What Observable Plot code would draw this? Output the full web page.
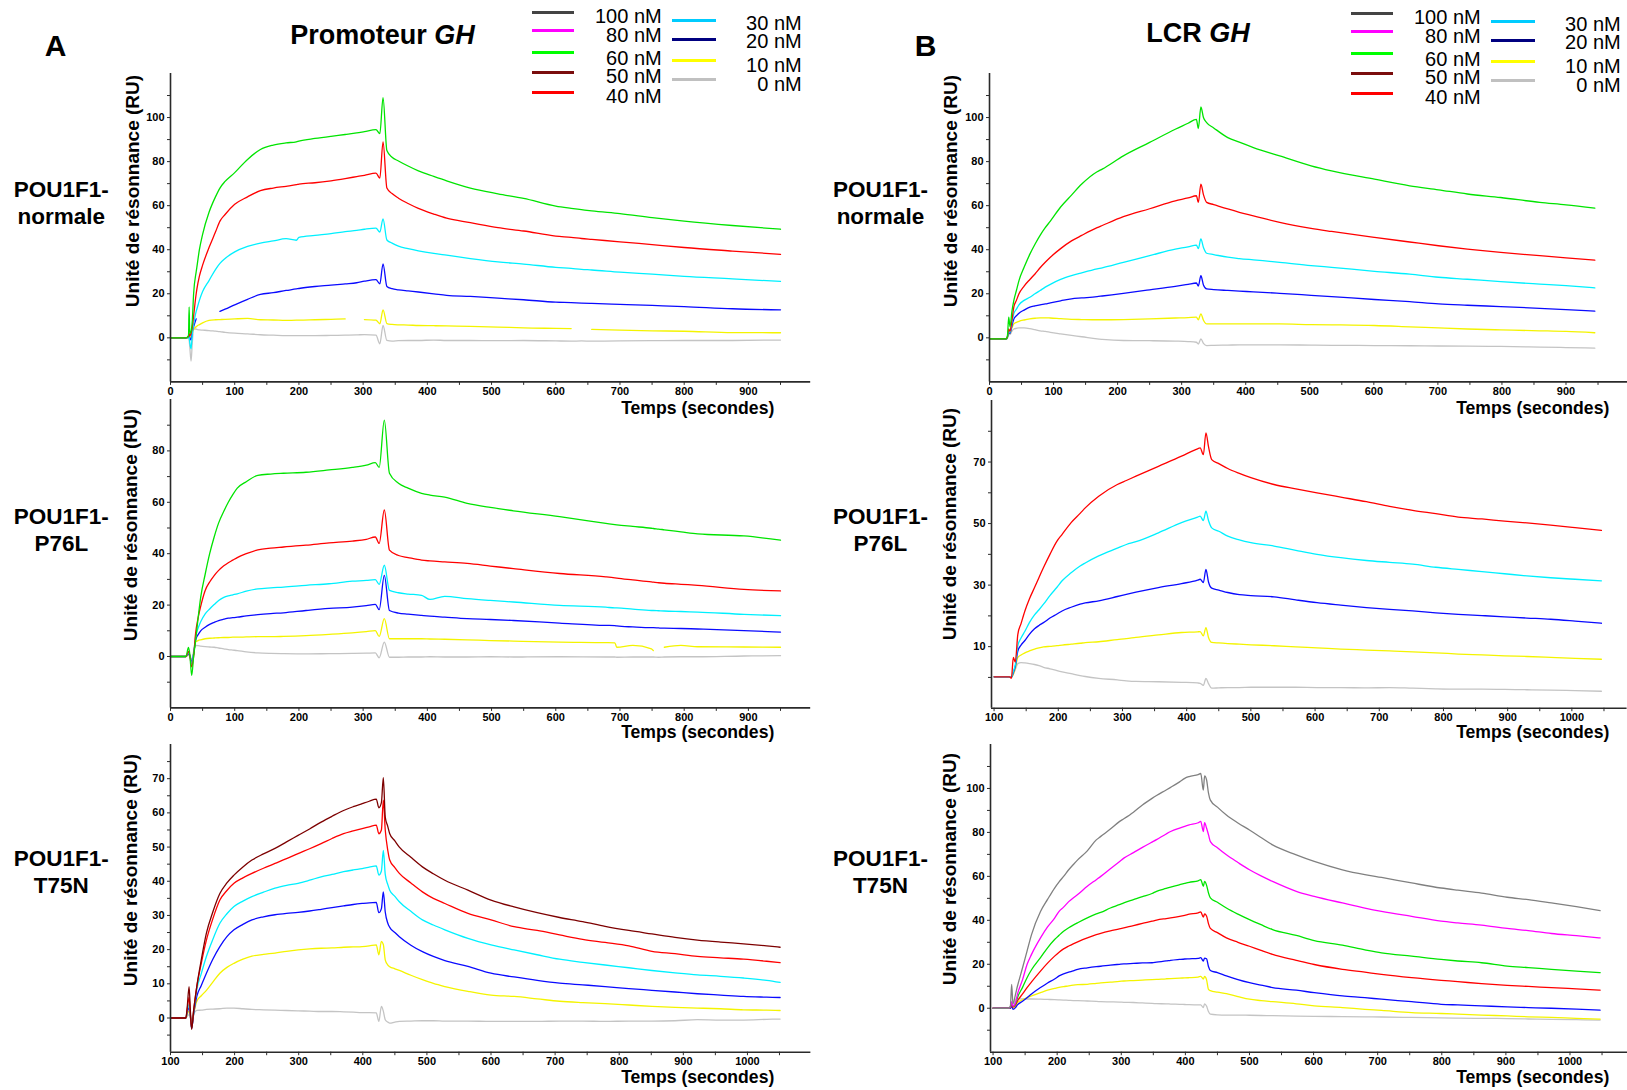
<!DOCTYPE html>
<html><head><meta charset="utf-8">
<script src="https://cdn.jsdelivr.net/npm/d3@7"></script>
<script src="https://cdn.jsdelivr.net/npm/@observablehq/plot@0.6"></script>
<style>
html,body{margin:0;padding:0;background:#fff;overflow:hidden;}
#root{position:relative;width:1627px;height:1090px;font-family:"Liberation Sans",Arial,Helvetica,sans-serif;color:#000;}
.t{position:absolute;white-space:nowrap;line-height:1;}
svg{position:absolute;}
</style></head>
<body><div id="root"></div>
<script>
// ---------------- DATA ----------------
const concs = ["0 nM","10 nM","20 nM","30 nM","40 nM","50 nM","60 nM","80 nM","100 nM"];
const legendCol1 = ["100 nM","80 nM","60 nM","50 nM","40 nM"];
const legendCol2 = ["30 nM","20 nM","10 nM","0 nM"];
const rowNames = [["POU1F1-","normale"],["POU1F1-","P76L"],["POU1F1-","T75N"]];
const titleA = "Promoteur"; const titleB = "LCR"; const titleGene = "GH";
const yLabel = "Unité de résonnance (RU)";
const xLabel = "Temps (secondes)";

// Panel A1 : Promoteur GH, POU1F1-normale
const tA1 = [0,24,28,29,30,32,34,36,40,41,45,50,60,70,77,85,100,120,140,160,180,196,200,225,250,272,290,302,320,326,331,337,345,355,370,386,410,430,467,510,550,600,624,640,656,700,750,800,875,950];
const a1_60 = [0,0,1,14,2,3,8,20,30,32,40,47,57,64,68,71,75,81,85.5,87.5,88.5,89,89.3,90.5,91.5,92.3,93,93.6,94.5,92.7,109,85,82,80.3,78,75.8,73.3,71.3,68,65.4,63.3,59.8,58.8,58.2,57.6,56.4,54.6,53,51,49.3];
const a1_40 = [0,0,0.5,2,1,2,5,10,20,22,28,33,41,48,53,56,60.6,64,66.8,68,68.8,69.5,69.8,70.4,71.3,72.3,73.2,73.8,74.8,72.5,89,68,65.5,63.4,61,58.8,56.2,54.3,52.3,50,48.5,46.2,45.6,45.1,44.7,43.6,42.3,41,39.4,37.9];
const a1_30 = [0,0,0,0.5,-2,-5,2,6,12,13,17,21,26,31,33.8,36,39,41.5,43,44,45,44.3,45.6,46.5,47.3,48.2,48.8,49.3,49.8,48,54,44.4,43,41.6,40.5,39.5,38.3,37.5,36,34.5,33.5,32,31.5,31.1,30.8,29.8,28.9,27.9,26.8,25.6];
const a1_20 = [0,0,0.3,1,0,-1,3,5,8.6,null,null,null,null,null,12,13,15,17.5,19.7,20.5,21.5,22.2,22.4,23.3,23.9,24.5,25,25.7,26.4,24.5,33.6,23.3,22.3,21.8,21.3,20.8,20,19.3,18.8,18,17.3,16.2,16,15.8,15.6,15.2,14.7,14.2,13.2,12.7];
const a1_10 = [0,0,0.3,1,0,1,3,4,5,5.3,6,6.8,7.9,8.2,8.3,8.4,8.6,8.8,8.2,8.1,7.9,8,8,8.2,8.4,8.6,null,8.3,8,6.4,12.7,6.5,6.1,5.9,5.8,5.6,5.5,5.4,5.2,4.9,4.5,4.3,4.2,null,3.8,3.5,3.2,3,2.4,2.3];
const a1_0 = [0,0,0,-1,-4,-10.6,-2,4,4,3.8,3.6,3.5,3.3,3,2.8,2.5,2.1,1.8,1.4,1.2,1,1,1,1,1.1,1.2,1.3,1.5,1.2,-2.7,5.6,-1.2,-1.5,-1.3,-1.2,-1.2,-1,-1.2,-1.2,-1.3,-1.2,-1.4,-1.5,-1.4,-1.5,-1.4,-1.3,-1.2,-1.2,-1];

// Panel A2 : Promoteur GH, POU1F1-P76L
const tA2 = [0,24,28,30,33,36,39,43,47,54,61,68,75,83,90,97,104,118,136,156,176,211,247,283,305,319,325,333,341,355,370,391,404,427,462,498,534,606,678,692,695,720,749,752,760,769,795,821,893,950];
const a2_60 = [0,0,3.5,1,-7.4,0,6,15,23,32,40,46.5,52,56.5,60,63,65.5,68,70.5,71,71.3,71.7,72.6,73.6,74.5,75.4,73.6,92,71.3,67.4,65.5,63.5,62.8,62,59.6,58,56.7,54.4,51.8,51.3,51.2,50.6,49.9,49.8,49.6,49.3,48.5,47.7,46.9,45.3];
const a2_40 = [0,0,2,0.5,-4,0,8.8,15,19.5,25.7,29,31.5,33.5,35.3,36.5,37.5,38.5,40,41.5,42.2,42.6,43.3,44.2,44.9,45.6,46.5,44,57,41.4,39.3,38.5,37.5,37.2,36.8,36.2,35.2,34.2,32.3,31,30.6,30.5,29.8,29,28.9,28.7,28.5,28.1,27.7,26.1,25.5];
const a2_30 = [0,0,1.5,0.5,-3,1,7.5,11,13.5,16.6,18.5,20.2,21.8,23,23.6,24,24.4,25.4,26.3,26.7,27,27.7,28.3,29.3,29.6,29.9,28.1,35.5,25.7,24.8,24.3,23.8,22.2,23.4,22.5,21.8,21.2,19.9,19.2,18.9,18.9,18.4,17.9,17.9,17.8,17.7,17.5,17.3,16.4,15.9];
const a2_20 = [0,0,1,0.3,-2,1,6.2,8.5,10,11.4,12.5,13.3,14,14.5,14.9,15.1,15.3,15.8,16.3,16.7,17,17.9,18.7,19.2,19.8,20.3,18.2,31.6,17.9,16.9,16.5,16,15.7,15.3,14.7,14.4,14,13,12.1,12,11.9,11.5,11.2,11.2,11.1,11,10.9,10.7,10.1,9.5];
const a2_10 = [0,0,0.8,0.3,-2,1,5.6,6.2,6.5,6.9,7.1,7.2,7.3,7.4,7.4,7.5,7.5,7.6,7.7,7.7,7.8,8.1,8.6,9.2,9.7,10.1,7.8,14.7,6.9,6.9,6.9,6.9,6.8,6.7,6.5,6.2,6,5.6,5.4,5.3,3.6,4.3,3,2.3,null,3.6,4.3,3.8,3.7,3.6];
const a2_0 = [0,0,0.5,0,-1,2,4.3,4.2,4,3.8,3.7,3.6,3.3,3,2.7,2.5,2.3,1.8,1.4,1.2,1.1,1,1.1,1.2,1.3,1.4,-0.5,5.6,-0.3,-0.3,-0.2,-0.2,-0.1,-0.2,-0.2,-0.1,-0.2,-0.1,-0.2,-0.2,-0.3,-0.2,-0.2,-0.2,-0.3,-0.2,-0.1,-0.1,0.2,0.3];

// Panel A3 : Promoteur GH, POU1F1-T75N
const tA3 = [100,124,126,129,131,133,136,141,148,156,166,177,188,199,213,227,245,263,281,299,317,335,352,370,385,399,410,421,425,429,432,435,439,442,450,457,475,493,510,528,564,600,636,672,707,743,778,815,851,887,922,958,994,1030,1051];
const a3_50 = [0,0,3,9.2,2,-3.4,2,9.2,17,24.8,31,36.4,39.5,41.8,44.2,46.2,48,49.6,51.5,53.4,55.3,57.3,59,60.7,61.8,62.7,63.4,64,61.5,63,70.3,58.8,56,53.9,51.8,50,47,44.2,42.2,40.3,37.4,34.5,32.5,30.8,29.4,28.2,26.8,25.6,24.6,23.6,22.8,22.2,21.7,21.1,20.7];
const a3_40 = [0,0,2.5,6,1,-3,2,9.2,16,22.8,29,34.5,37.3,39.4,41,42.3,43.8,45.2,46.6,48.1,49.5,51,52.5,53.9,54.7,55.4,55.9,56.4,53.9,55,63.7,55,49,46.2,44,42.3,39.5,36.9,35,33.5,30.6,28.7,26.7,25.6,24.3,23,22.1,21.1,19.5,18.8,18,17.6,17.2,16.6,16.2];
const a3_30 = [0,0,2,4,1,-3,1.5,8.3,13,18,23,27.7,30.5,32.6,34.2,35.5,36.8,38,38.8,39.4,40.3,41.3,42,42.8,43.3,43.7,44.1,44.5,41.8,43,49,42,39,37.4,35.6,34,31.2,28.7,27.2,25.8,23.3,21.4,19.9,18.5,17.2,16.3,15.5,14.7,13.9,13.2,12.6,12.2,11.7,11,10.4];
const a3_20 = [0,0,1.5,3,0.5,-3,1,6.3,9.5,13.1,17.2,20.9,23.8,25.8,27.4,28.7,29.6,30.2,30.6,30.9,31.3,31.8,32.3,32.8,33.2,33.5,33.7,33.8,30.8,32,36.9,31,27.7,26.5,25,23.8,21.3,19.4,18,16.8,15.1,13.1,12,11,10.2,9.7,9.2,8.6,8.1,7.6,7.1,6.7,6.3,6.1,6];
const a3_10 = [0,0,1,2,0.5,-2,1,4.9,6.5,8.1,10.5,13.1,14.8,16,17.2,18.1,18.6,19,19.5,19.9,20.2,20.4,20.5,20.7,20.8,20.9,21.1,21.4,18.5,22.4,21.5,17,15.5,15,14.4,13.9,12.5,11.2,10.1,9.2,7.8,6.7,6.3,5.6,4.9,4.5,4.2,3.8,3.4,3.1,2.9,2.7,2.4,2.3,2.2];
const a3_0 = [0,0,0.5,1,0,-1,1,2.2,2.3,2.5,2.6,2.7,2.9,2.9,2.7,2.5,2.4,2.3,2.2,2.1,2,1.9,1.9,1.8,1.7,1.6,1.6,1.5,-1,3.4,2,-0.5,-1.2,-1.5,-1.2,-1,-0.9,-0.8,-0.8,-0.9,-0.9,-1,-1,-1,-0.9,-0.9,-1,-0.9,-0.9,-0.8,-0.5,-0.6,-0.6,-0.4,-0.3];

// Panel B1 : LCR GH, POU1F1-normale
const tB1 = [0,26,28,30,32,35,38,42,46,54,63,71,79,87,95,111,128,144,168,176,209,250,290,310,323,326,330,334,339,350,372,390,412,453,502,534,601,656,701,746,798,859,900,945];
const b1_60 = [-0.5,-0.5,1,9.4,5,12,17,21.5,26,32,38,42.5,46.5,50,53,59.4,64.8,69.8,75.4,76.6,82.6,88.7,94.7,97.4,99.2,95,104.8,100,97.7,95.3,90.9,88.8,86.4,82.6,78.1,75.8,72,69,67.2,65.3,63.7,61.5,60.4,58.9];
const b1_40 = [-0.5,-0.5,0.5,4,3,8,14,17,20,23.5,26.5,29,31.8,34.3,36.6,40.5,44,46.5,50,51,55,58.6,62.2,63.5,64.5,61.5,69.8,65,61.5,60.5,58.5,57,55.4,52.4,49.7,48.3,45.6,43.5,41.8,40.3,38.8,37.3,36.3,35.3];
const b1_30 = [-0.5,-0.5,0.3,3,2.5,7,11,13,15,17,18.4,20,21.5,23,24.3,26.5,28.2,29.5,31.3,31.8,34.3,37.3,40.3,41.3,42.1,40.5,44.9,41,38.4,37.8,36.6,36,35.4,34.3,32.8,32,30.2,28.9,27.5,26.6,25.5,24.4,23.7,22.7];
const b1_20 = [-0.5,-0.5,0.3,2.5,2,5.5,8.6,10,11.2,12.6,13.9,14.5,15,15.4,15.9,16.8,17.7,18.1,18.7,19,20.2,21.8,23.4,24.3,24.9,23.5,28.2,24,22.2,21.9,21.5,21.2,20.9,20.2,19.3,18.7,17.4,16.4,15.4,14.8,14.2,13.4,12.8,12.1];
const b1_10 = [-0.5,-0.5,0.2,2,2,4.5,6.3,7,7.5,8.1,8.6,8.9,9.1,9.1,9,8.7,8.4,8.3,8.2,8.2,8.3,8.6,9,9.2,9.4,8.2,10.9,8,6.3,6.3,6.3,6.3,6.3,6.3,6,5.9,5.6,5,4.5,4,3.6,3.2,2.9,2.3];
const b1_0 = [-0.5,-0.5,0,1.5,1.5,3,4,4.3,4.5,4.5,4.2,3.7,3.2,2.9,2.5,1.8,1.1,0.5,-0.5,-0.7,-1.2,-1.3,-1.5,-1.7,-2,-2.8,-0.5,-2.5,-3.5,-3.4,-3.3,-3.2,-3.2,-3.2,-3.3,-3.4,-3.5,-3.6,-3.7,-3.8,-3.9,-4.2,-4.4,-4.7];

// Panel B2 : LCR GH, POU1F1-P76L
const tB2 = [100,124,127,130,133,137,142,148,155,163,170,177,187,198,206,220,234,242,263,292,306,321,356,392,417,421,426,430,434,439,450,464,482,500,536,570,603,640,680,716,752,788,823,860,895,930,967,1005,1046];
const b2_40 = [0.2,0.2,-0.3,6.5,5,14,17.5,21.6,25.5,29.2,32.5,35.7,40,44.3,46.5,50.3,53.3,55.1,58.9,62.7,64,65.4,68.6,71.9,74.3,74.6,72.4,79.5,75,70.8,69.5,67.9,66.3,64.9,62.7,61.3,60,58.6,57.1,55.6,54.3,53.2,52.1,51.5,50.8,50.2,49.5,48.7,47.8];
const b2_30 = [0.2,0.2,0,2,4,10.3,12.8,15,17.8,20.3,22,23.8,26.6,29.3,31.4,34,36.2,37.2,39.5,42,43.2,44.1,47,50.3,52.1,52.4,51,54,51,48.6,47.5,45.9,44.7,43.8,42.7,41.3,40,38.9,38,37.4,36.8,35.8,35.1,34.4,33.7,33,32.4,31.9,31.4];
const b2_20 = [0.2,0.2,0,1.5,3.5,8.6,10.5,12,14,15.8,16.9,17.8,19.3,20.6,21.6,22.8,23.8,24.2,24.9,26.3,27,27.7,29.2,30.5,31.6,31.9,30.8,35.1,31,29,28.4,27.6,26.9,26.6,26.2,25.2,24.3,23.5,22.7,22.1,21.6,21,20.5,20.1,19.7,19.3,18.9,18.3,17.6];
const b2_10 = [0.2,0.2,0,1,3,6.5,7.3,8,8.6,9.2,9.6,9.9,10.1,10.3,10.5,10.8,11.1,11.3,11.6,12.3,12.6,13,13.8,14.6,14.8,14.9,13.5,16.2,13,11.4,11.2,11,10.8,10.6,10.3,9.9,9.6,9.2,8.9,8.6,8.3,8,7.6,7.3,7,6.8,6.5,6.2,5.9];
const b2_0 = [0.2,0.2,0,1,2.5,4.5,4.8,4.7,4.5,4.2,3.8,3.3,2.8,2.2,1.8,1.2,0.6,0.3,-0.3,-0.8,-1.1,-1.3,-1.4,-1.6,-1.8,-1.9,-2.6,-0.3,-2,-3.5,-3.4,-3.3,-3.3,-3.2,-3.2,-3.2,-3.3,-3.3,-3.4,-3.3,-3.5,-3.7,-3.8,-3.8,-3.9,-4,-4.1,-4.3,-4.5];

// Panel B3 : LCR GH, POU1F1-T75N
const tB3 = [100,124,127,129,131,135,138,146,153,160,174,185,196,203,210,218,225,232,247,261,268,283,297,304,319,333,348,355,370,377,391,399,406,420,424,428,430,433,436,439,450,464,482,500,518,536,573,601,645,680,706,753,799,825,862,902,935,971,1010,1047];
const b3_100 = [0,0,1,10.9,2,6.3,10,18.4,26,33.5,44,49.5,54.7,57.5,60,63,65.3,67.5,71.6,76.6,78.2,81.5,84.9,86.2,89.2,92.5,95.5,96.8,99.3,100.5,103,104.6,105.4,106.3,106.8,99.2,105.7,104,98,94.7,91.5,87.9,84.3,81.1,77.7,74.3,69.8,66.8,63,60.8,59.5,57,54.7,53.7,52.4,50.5,49.4,47.9,46.2,44.4];
const b3_80 = [0,0,0.5,3,1,2.5,6.3,13,19.9,24.5,32,37,41,44.1,46,48.5,50.2,51.7,55.5,58.5,60,63.5,66.7,68.3,70.8,73.2,75.6,76.7,79.3,80.4,82,82.8,83.4,84.4,85,80.4,84.4,82,79,75.8,73,69.8,66.3,63,60.2,57.7,53.2,50.9,47.9,45.6,44.1,41.8,39.6,38.8,37.8,36.3,35.3,34,33,32];
const b3_60 = [0,0,0.5,2.5,1,2,4.8,9.5,13.9,17.5,23,27.5,31.3,33.2,35,36.6,37.8,38.9,41.1,42.9,43.6,45.6,47.1,47.9,49.4,50.8,52.2,53.2,54.5,55.1,56.2,56.8,57.3,58,58.5,55.5,57.7,56,52.5,50.2,48.2,45.6,42.8,40.3,38,35.8,33.1,30.8,28.7,26.6,25.2,23.7,22.2,21.5,20.7,19.2,18.5,17.7,16.9,16.2];
const b3_40 = [0,0,0.3,2,0.5,1.5,3.3,6.5,9.4,12,16.9,20.5,23.7,25.5,27,28.3,29.3,30.2,32,33.5,34.1,35.2,36.1,36.6,37.6,38.6,39.6,40.1,40.8,41.1,41.8,42.3,42.8,43.4,43.8,41.5,42.9,42,38.5,36.3,34.4,32,30,28.2,26.3,24.5,21.8,19.9,17.7,16.4,15.4,13.9,12.7,12.1,11.2,10.4,9.9,9.4,8.8,8.2];
const b3_20 = [0,0,0,1,-0.5,0.3,1.5,3.2,4.8,6.5,9.4,11.5,13.3,14.7,15.6,16.4,17,17.7,18.4,18.9,19.1,19.6,20,20.2,20.4,20.6,20.7,21,21.5,21.8,22.2,22.4,22.5,22.7,23,21.5,22.8,22.5,19,17.2,16.2,14.7,13,11.6,10.5,9.4,8.2,7.1,5.6,4.8,4.1,3,1.8,1.5,1.1,0.6,0.3,0,-0.4,-0.9];
const b3_10 = [0,0,0,0.5,0,0.8,2.6,3.8,4.8,5.6,7.1,8.2,9,9.5,9.8,10.2,10.5,10.7,10.9,11.3,11.5,11.9,12.2,12.4,12.6,12.8,13,13.1,13.4,13.5,13.7,13.8,13.9,14.2,14.5,13.3,14.5,13,8.6,8,7.3,6.6,5.3,4.1,3.5,3,2,1.1,0.3,-0.5,-1,-2,-2.4,-2.7,-3.1,-3.5,-3.9,-4.2,-4.6,-5];
const b3_0 = [0,0,0,0.5,0,4.1,4.3,4.3,4.2,4.2,4.1,4,3.9,3.8,3.7,3.6,3.5,3.5,3.3,3.1,3,2.9,2.8,2.7,2.6,2.4,2.2,2.1,2,1.9,1.8,1.7,1.6,1.5,1.5,0.3,2,1,-1.5,-2.7,-3,-3.1,-3.1,-3.2,-3.3,-3.4,-3.6,-3.7,-3.8,-3.9,-4,-4.2,-4.4,-4.5,-4.6,-4.7,-4.9,-5.1,-5.2,-5.4];

// Axis tick values
const xMajor0 = [0,100,200,300,400,500,600,700,800,900];
const xMinor0 = [50,150,250,350,450,550,650,750,850,950];
const xMajor100 = [100,200,300,400,500,600,700,800,900,1000];
const xMinor100 = [150,250,350,450,550,650,750,850,950,1050];
const yMajorA1 = [0,20,40,60,80,100], yMinorA1 = [-10,10,30,50,70,90,110];
const yMajorA2 = [0,20,40,60,80], yMinorA2 = [-10,10,30,50,70,90];
const yMajorA3 = [0,10,20,30,40,50,60,70], yMinorA3 = [-5,5,15,25,35,45,55,65,75];
const yMajorB2 = [10,30,50,70], yMinorB2 = [0,20,40,60,80];

// ---------------- STYLE / LAYOUT ----------------
const curveColor = {"100 nM":"#808080","80 nM":"#ff00ff","60 nM":"#00e400","50 nM":"#7d0000","40 nM":"#ff0000","30 nM":"#00f0ff","20 nM":"#0a0aff","10 nM":"#f4f400","0 nM":"#c4c4c4"};
const legendColor = {"100 nM":"#444444","80 nM":"#ff00ff","60 nM":"#00ff00","50 nM":"#7a0d0d","40 nM":"#ff0000","30 nM":"#00ccff","20 nM":"#000080","10 nM":"#ffff00","0 nM":"#c0c0c0"};

const panels = [
  {t:tA1, s:{"0 nM":a1_0,"10 nM":a1_10,"20 nM":a1_20,"30 nM":a1_30,"40 nM":a1_40,"60 nM":a1_60},
   xd:[0,997], yd:[-20,120], px:[170.2,810.4], py:[381.7,73.3], xM:xMajor0, xm:xMinor0, yM:yMajorA1, ym:yMinorA1,
   ylab:[131.5,190.5], xlab:[774.3,409], row:[61.3,190]},
  {t:tA2, s:{"0 nM":a2_0,"10 nM":a2_10,"20 nM":a2_20,"30 nM":a2_30,"40 nM":a2_40,"60 nM":a2_60},
   xd:[0,997], yd:[-20,100], px:[170.2,810.4], py:[707.7,399.3], xM:xMajor0, xm:xMinor0, yM:yMajorA2, ym:yMinorA2,
   ylab:[130,525], xlab:[774.3,733], row:[61.3,517]},
  {t:tA3, s:{"0 nM":a3_0,"10 nM":a3_10,"20 nM":a3_20,"30 nM":a3_30,"40 nM":a3_40,"50 nM":a3_50},
   xd:[100,1099], yd:[-10,80], px:[170,810.4], py:[1051.7,744], xM:xMajor100, xm:xMinor100, yM:yMajorA3, ym:yMinorA3,
   ylab:[130,869.5], xlab:[774.3,1077.5], row:[61.3,859]},
  {t:tB1, s:{"0 nM":b1_0,"10 nM":b1_10,"20 nM":b1_20,"30 nM":b1_30,"40 nM":b1_40,"60 nM":b1_60},
   xd:[0,996], yd:[-20,120], px:[989,1627], py:[381.7,73.3], xM:xMajor0, xm:xMinor0, yM:yMajorA1, ym:yMinorA1,
   ylab:[949.5,190.5], xlab:[1609.3,409], row:[880.4,190]},
  {t:tB2, s:{"0 nM":b2_0,"10 nM":b2_10,"20 nM":b2_20,"30 nM":b2_30,"40 nM":b2_40},
   xd:[96,1086], yd:[-10,90], px:[991.4,1627], py:[707.7,400], xM:xMajor100, xm:xMinor100, yM:yMajorB2, ym:yMinorB2,
   ylab:[948.7,524], xlab:[1609.3,733], row:[880.4,517]},
  {t:tB3, s:{"0 nM":b3_0,"10 nM":b3_10,"20 nM":b3_20,"40 nM":b3_40,"60 nM":b3_60,"80 nM":b3_80,"100 nM":b3_100},
   xd:[96,1090], yd:[-20,120], px:[989.8,1627], py:[1051.7,744], xM:xMajor100, xm:xMinor100, yM:yMajorA1, ym:yMinorA1,
   ylab:[948.7,869], xlab:[1609.3,1077.5], row:[880.4,859]}
];

const root = document.getElementById("root");
function text(html, x, y, css, align) {
  const d = document.createElement("div");
  d.className = "t";
  d.innerHTML = html;
  const tx = align === "right" ? "-100%" : align === "left" ? "0" : "-50%";
  d.style.left = x + "px"; d.style.top = y + "px";
  d.style.transform = `translate(${tx},-50%)`;
  d.style.cssText += css || "";
  root.appendChild(d);
  return d;
}

const axisColor = "#2a2a2a";
panels.forEach((p, i) => {
  const ml = 46, mt = 6, mb = 24, mr = p.px[1] >= 1627 ? 0 : 6;
  const left = p.px[0] - ml, top = p.py[1] - mt;
  const width = p.px[1] - left + mr;
  const height = p.py[0] - top + mb;
  const lines = concs.filter(c => p.s[c]).map(c =>
    Plot.line(p.t.map((t, k) => ({t, v: p.s[c][k]})), {x: "t", y: "v", stroke: curveColor[c], strokeWidth: 1.3, curve: "monotone-x"})
  );
  const chart = Plot.plot({
    width, height, marginLeft: ml, marginRight: mr, marginTop: mt, marginBottom: mb,
    x: {domain: p.xd, axis: null, label: null},
    y: {domain: p.yd, axis: null, label: null},
    style: {background: "transparent", fontFamily: "'Liberation Sans', Arial, sans-serif", fontSize: "11px", fontWeight: "bold", color: axisColor, overflow: "visible"},
    marks: [
      ...lines,
      Plot.axisX(p.xM, {anchor: "bottom", tickSize: 3.5, tickPadding: 1.5, label: null, tickFormat: d => `${d}`, fill: "#000"}),
      Plot.axisX(p.xm, {anchor: "bottom", tickSize: 3.5, label: null, tickFormat: () => ""}),
      Plot.axisY(p.yM, {anchor: "left", tickSize: 3, tickPadding: 3, label: null, tickFormat: d => `${d}`, fill: "#000"}),
      Plot.axisY(p.ym, {anchor: "left", tickSize: 3, label: null, tickFormat: () => ""}),
      Plot.ruleX([p.xd[0]], {y1: p.yd[0], y2: p.yd[1], stroke: axisColor, strokeWidth: 1.6}),
      Plot.ruleY([p.yd[0]], {x1: p.xd[0], x2: p.xd[1], stroke: axisColor, strokeWidth: 1.6})
    ]
  });
  chart.style.left = left + "px";
  chart.style.top = top + "px";
  root.appendChild(chart);

  // axis titles
  const yl = text(yLabel, p.ylab[0], p.ylab[1], "font-weight:bold;font-size:19px;", "center");
  yl.style.transform = "translate(-50%,-50%) rotate(-90deg)";
  text(xLabel, p.xlab[0], p.xlab[1], "font-weight:bold;font-size:17.6px;", "right");
  // row labels
  const rn = rowNames[i % 3];
  text(rn[0], p.row[0], p.row[1], "font-weight:bold;font-size:22.5px;", "center");
  text(rn[1], p.row[0], p.row[1] + 26.5, "font-weight:bold;font-size:22.5px;", "center");
});

// panel letters & titles
text("A", 55.7, 46, "font-weight:bold;font-size:30px;", "center");
text("B", 925.6, 45.5, "font-weight:bold;font-size:30px;", "center");
text(`${titleA} <i>${titleGene}</i>`, 382.5, 35, "font-weight:bold;font-size:27px;", "center");
text(`${titleB} <i>${titleGene}</i>`, 1198, 33.3, "font-weight:bold;font-size:27px;", "center");

// legends
function legend(dx, dy) {
  const c1LineY = [12.3, 30.7, 52.7, 72.3, 92], c1TextY = [16.7, 35.7, 59, 77.3, 97.3];
  const c2LineY = [20, 39, 60.7, 79.3], c2TextY = [24, 42.3, 65.7, 85.3];
  const seg = (x1, x2, y, col) => {
    const d = document.createElement("div");
    d.style.cssText = `position:absolute;left:${x1}px;top:${y - 1.5}px;width:${x2 - x1}px;height:3px;background:${col};`;
    root.appendChild(d);
  };
  legendCol1.forEach((c, k) => {
    seg(531.7 + dx, 574.3 + dx, c1LineY[k] + dy, legendColor[c]);
    text(c, 661.7 + dx, c1TextY[k] + dy, "font-size:20px;line-height:0.78;", "right");
  });
  legendCol2.forEach((c, k) => {
    seg(672.3 + dx, 715.7 + dx, c2LineY[k] + dy, legendColor[c]);
    text(c, 801.7 + dx, c2TextY[k] + dy, "font-size:20px;line-height:0.78;", "right");
  });
}
legend(0, 0);
legend(819, 1);
</script>
</body></html>
